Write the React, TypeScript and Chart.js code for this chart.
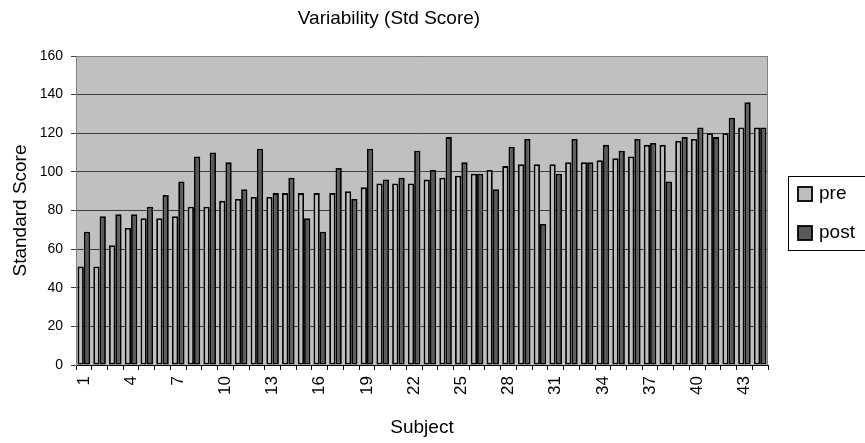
import React, { useEffect, useRef } from "react";
import { Chart, registerables } from "chart.js";

Chart.register(...registerables);

// Subject numbers along the category axis
const subjects = [
  "1", "2", "3", "4", "5", "6", "7", "8", "9", "10", "11",
  "12", "13", "14", "15", "16", "17", "18", "19", "20", "21", "22",
  "23", "24", "25", "26", "27", "28", "29", "30", "31", "32", "33",
  "34", "35", "36", "37", "38", "39", "40", "41", "42", "43", "44",
];

// Standard scores before the intervention
const preScores = [
  51, 51, 62, 71, 76, 76, 77, 82, 82, 85, 86,
  87, 87, 89, 89, 89, 89, 90, 92, 94, 94, 94,
  96, 97, 98, 99, 101, 103, 104, 104, 104, 105, 105,
  106, 107, 108, 114, 114, 116, 117, 120, 120, 123, 123,
];

// Standard scores after the intervention
const postScores = [
  69, 77, 78, 78, 82, 88, 95, 108, 110, 105, 91,
  112, 89, 97, 76, 69, 102, 86, 112, 96, 97, 111,
  101, 118, 105, 99, 91, 113, 117, 73, 99, 117, 105,
  114, 111, 117, 115, 95, 118, 123, 118, 128, 136, 123,
];

const seriesNames = ["pre", "post"];
const seriesColors = ["#bdbdbd", "#5a5a5a"];

const chartTitle = "Variability (Std Score)";
const yTitle = "Standard Score";
const xTitle = "Subject";

const FONT = "'Liberation Sans', Arial, sans-serif";
const W = 865;
const H = 443;

// Plot-area background, frame, chart title and boxed legend
const decorations = {
  id: "decorations",
  beforeDraw(chart: any) {
    const { ctx, chartArea: a } = chart;
    ctx.save();
    ctx.fillStyle = "#ffffff";
    ctx.fillRect(0, 0, chart.width, chart.height);
    ctx.fillStyle = "#c0c0c0";
    ctx.fillRect(a.left, a.top, a.right - a.left, a.bottom - a.top);
    ctx.restore();
  },
  afterDraw(chart: any) {
    const { ctx, chartArea: a } = chart;
    ctx.save();
    // plot frame
    ctx.strokeStyle = "#808080";
    ctx.lineWidth = 1;
    ctx.beginPath();
    ctx.moveTo(a.left, a.top + 0.5);
    ctx.lineTo(a.right - 0.5, a.top + 0.5);
    ctx.lineTo(a.right - 0.5, a.bottom);
    ctx.stroke();

    // title
    ctx.fillStyle = "#000";
    ctx.font = `19px ${FONT}`;
    ctx.textAlign = "center";
    ctx.textBaseline = "middle";
    ctx.fillText(chartTitle, 389, 19);

    // legend (box runs off the right edge)
    const boxX = 788.5;
    const boxY = 176.5;
    const boxW = 90;
    const boxH = 74;
    ctx.strokeStyle = "#000";
    ctx.lineWidth = 1;
    ctx.strokeRect(boxX, boxY, boxW, boxH);
    ctx.font = `19px ${FONT}`;
    chart.data.datasets.forEach((ds: any, i: number) => {
      const cy = 194 + i * 39;
      ctx.fillStyle = ds.backgroundColor;
      ctx.fillRect(798, cy - 7, 14, 14);
      ctx.lineWidth = 1.8;
      ctx.strokeStyle = "#000";
      ctx.strokeRect(798, cy - 7, 14, 14);
      ctx.fillStyle = "#000";
      ctx.textAlign = "left";
      ctx.textBaseline = "middle";
      ctx.fillText(ds.label, 819, cy);
    });
    ctx.restore();
  },
};

export default function App() {
  const canvasRef = useRef<HTMLCanvasElement | null>(null);

  useEffect(() => {
    const canvas = canvasRef.current;
    if (!canvas) return;
    const chart = new Chart(canvas, {
      type: "bar",
      data: {
        labels: subjects,
        datasets: [
          {
            label: seriesNames[0],
            data: preScores,
            backgroundColor: seriesColors[0],
            borderColor: "#000",
            borderWidth: 1.8,
            borderSkipped: false,
          },
          {
            label: seriesNames[1],
            data: postScores,
            backgroundColor: seriesColors[1],
            borderColor: "#000",
            borderWidth: 1.8,
            borderSkipped: false,
          },
        ],
      },
      options: {
        animation: false,
        responsive: false,
        devicePixelRatio: 1,
        layout: { padding: { left: 0, top: 56, right: W - 768, bottom: 0 } },
        datasets: { bar: { categoryPercentage: 0.8, barPercentage: 1.0 } },
        scales: {
          x: {
            grid: {
              offset: true,
              drawOnChartArea: false,
              drawTicks: true,
              tickLength: 5,
              color: "#000",
            },
            border: { color: "#000", width: 1 },
            ticks: {
              autoSkip: false,
              maxRotation: 90,
              minRotation: 90,
              padding: 6,
              color: "#000",
              font: { family: FONT, size: 17 },
              callback: (_v: any, i: number) => (i % 3 === 0 ? subjects[i] : ""),
            },
            title: {
              display: true,
              text: xTitle,
              color: "#000",
              font: { family: FONT, size: 19 },
              padding: { top: 0, bottom: 4 },
            },
            afterFit: (s: any) => {
              s.height = H - 365;
            },
          },
          y: {
            min: 0,
            max: 160,
            ticks: { stepSize: 20, color: "#000", font: { family: FONT, size: 14 }, padding: 8 },
            grid: { color: "#3c3c3c", tickLength: 5 },
            border: { color: "#808080", width: 1 },
            title: {
              display: true,
              text: yTitle,
              color: "#000",
              font: { family: FONT, size: 19 },
              padding: { top: 9, bottom: 0 },
            },
            afterFit: (s: any) => {
              s.width = 76;
            },
          },
        },
        plugins: {
          legend: { display: false },
          title: { display: false },
          tooltip: { enabled: false },
        },
      },
      plugins: [decorations],
    });
    return () => chart.destroy();
  }, []);

  return (
    <div style={{ position: "fixed", left: 0, top: 0, width: W, height: H, background: "#fff" }}>
      <canvas ref={canvasRef} width={W} height={H} style={{ display: "block" }} />
    </div>
  );
}
